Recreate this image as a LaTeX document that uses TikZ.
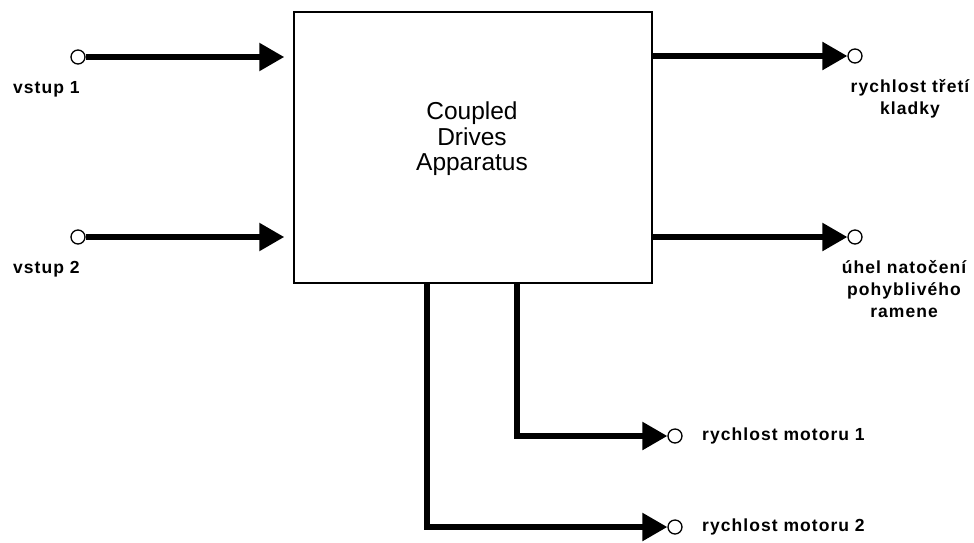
\documentclass[tikz,border=0pt]{standalone}
\usepackage{fontspec}
\setmainfont{Liberation Sans}
\newfontfamily\lblfont[LetterSpace=6]{Liberation Sans}
\usetikzlibrary{arrows.meta}
\tikzset{
  blockbox/.style={draw, line width=1.5pt, minimum width=358pt, minimum height=271pt, inner sep=0pt},
  port/.style={circle, draw, fill=white, line width=1.3pt, minimum size=14pt, inner sep=0pt},
  conn/.style={line width=5.5pt, -{Triangle[length=25pt,width=27pt]}},
  lbl/.style={font=\lblfont\bfseries\fontsize{17.5}{22}\selectfont, inner sep=0pt, align=center},
  title/.style={font=\fontsize{24.5}{25.5}\selectfont, align=center, inner sep=0pt}
}
\begin{document}
\begin{tikzpicture}[x=1pt,y=-1pt]
\useasboundingbox (0,0) rectangle (974,542);
\node[blockbox] (box) at (473,147.5) {};
\node[title] (t) at (472,139) {Coupled\\Drives\\Apparatus};
% ports
\node[port] (i1) at (78,57) {};
\node[port] (i2) at (78,237) {};
\node[port] (o1) at (855,56) {};
\node[port] (o2) at (855,237) {};
\node[port] (m1) at (675,436) {};
\node[port] (m2) at (675,527) {};
% labels
\node[lbl, anchor=base west] (li1) at (13,93) {vstup 1};
\node[lbl, anchor=base west] (li2) at (13,273) {vstup 2};
\node[lbl, anchor=north] (lo1) at (910,79) {rychlost třetí\\kladky};
\node[lbl, anchor=north] (lo2) at (904,260) {úhel natočení\\pohyblivého\\ramene};
\node[lbl, anchor=base west] (lm1) at (702,440) {rychlost motoru 1};
\node[lbl, anchor=base west] (lm2) at (702,531) {rychlost motoru 2};
% connectors
\draw[conn, shorten >=9pt] (i1) -- (box.west |- i1);
\draw[conn, shorten >=9pt] (i2) -- (box.west |- i2);
\draw[conn] (box.east |- o1) -- (o1);
\draw[conn] (box.east |- o2) -- (o2);
\coordinate (b1) at ([xshift=44pt]box.south);
\coordinate (b2) at ([xshift=-46pt]box.south);
\draw[conn] (b1) |- (m1);
\draw[conn] (b2) |- (m2);
\end{tikzpicture}
\end{document}
